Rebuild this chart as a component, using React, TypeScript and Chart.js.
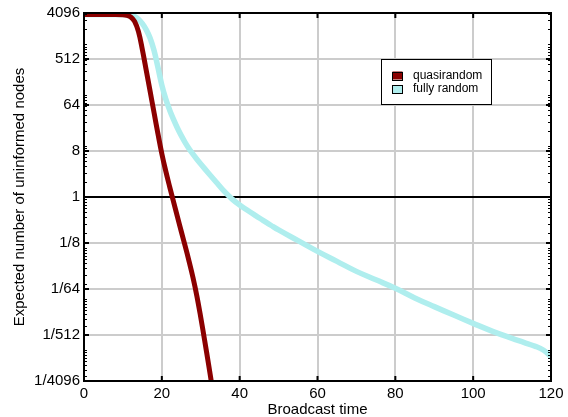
import React, { useEffect, useRef } from "react";
import { Chart, registerables } from "chart.js";

Chart.register(...registerables);

// Broadcast time (x) and log2 of expected number of uninformed nodes (y)
const quasiTime = [0, 5, 8, 10, 11, 12, 13, 14, 15, 16, 17, 18, 19, 20, 21, 22, 23, 24, 25, 26, 27, 28, 29, 30, 31, 32, 33];
const quasiLog2 = [11.9, 11.9, 11.9, 11.88, 11.84, 11.74, 11.45, 10.78, 9.6, 8.25, 6.88, 5.5, 4.12, 2.82, 1.7, 0.68, -0.3, -1.28, -2.25, -3.2, -4.2, -5.25, -6.45, -7.85, -9.35, -10.9, -12.5];

const randomTime = [0, 5, 10, 11, 12, 13, 14, 15, 16, 17, 18, 19, 20, 21, 22, 23, 24, 25, 26, 27, 28, 29, 30, 32, 34, 36, 38, 40, 42, 44, 46, 48, 50, 55, 60, 65, 70, 75, 80, 85, 90, 95, 100, 105, 110, 113, 116, 118, 120];
const randomLog2 = [11.9, 11.9, 11.9, 11.89, 11.86, 11.78, 11.6, 11.3, 10.9, 10.35, 9.55, 8.45, 7.3, 6.4, 5.68, 5.06, 4.5, 4.0, 3.55, 3.15, 2.79, 2.46, 2.15, 1.55, 0.96, 0.38, -0.12, -0.52, -0.87, -1.2, -1.52, -1.84, -2.15, -2.85, -3.55, -4.2, -4.85, -5.4, -5.95, -6.58, -7.15, -7.7, -8.24, -8.76, -9.22, -9.48, -9.74, -9.98, -10.4];

const seriesNames = ["quasirandom", "fully random"];
const seriesColors = ["#8b0000", "#afeeee"];

const yTickExponents = [-12, -9, -6, -3, 0, 3, 6, 9, 12];
const xTicks = [0, 20, 40, 60, 80, 100, 120];

const FONT = "'Liberation Sans', Arial, Helvetica, sans-serif";

function fmtPow2(v: number): string {
  const r = Math.round(v);
  if (r >= 0) return String(Math.pow(2, r));
  return "1/" + String(Math.pow(2, -r));
}

const framePlugin = {
  id: "frame",
  afterDatasetsDraw(chart: any) {
    const { ctx, chartArea } = chart;
    const xs = chart.scales.x;
    const ys = chart.scales.y;
    const { left, right, top, bottom } = chartArea;
    ctx.save();
    // minor ticks on y (m * 10^k)
    ctx.strokeStyle = "#000";
    ctx.lineWidth = 1;
    for (let k = -4; k <= 3; k++) {
      for (let m = 1; m <= 9; m++) {
        const v = Math.log2(m * Math.pow(10, k));
        if (v < -12 || v > 12) continue;
        const py = Math.round(ys.getPixelForValue(v)) + 0.5;
        ctx.beginPath();
        ctx.moveTo(left, py);
        ctx.lineTo(left + 3, py);
        ctx.moveTo(right, py);
        ctx.lineTo(right - 3, py);
        ctx.stroke();
      }
    }
    // major ticks
    ctx.lineWidth = 2;
    for (const t of xTicks) {
      const px = xs.getPixelForValue(t);
      ctx.beginPath();
      ctx.moveTo(px, bottom);
      ctx.lineTo(px, bottom - 5);
      ctx.moveTo(px, top);
      ctx.lineTo(px, top + 5);
      ctx.stroke();
    }
    for (const t of yTickExponents) {
      const py = ys.getPixelForValue(t);
      ctx.beginPath();
      ctx.moveTo(left, py);
      ctx.lineTo(left + 5, py);
      ctx.moveTo(right, py);
      ctx.lineTo(right - 5, py);
      ctx.stroke();
    }
    // box
    ctx.lineWidth = 2;
    ctx.strokeRect(left, top, right - left, bottom - top);

    // legend
    const w = right - left;
    const h = bottom - top;
    const lx = left + w * 0.637;
    const ly = top + h * 0.125;
    const lw = 110;
    const lh = 45;
    ctx.fillStyle = "#fff";
    ctx.fillRect(lx, ly, lw, lh);
    ctx.lineWidth = 1;
    ctx.strokeStyle = "#000";
    ctx.strokeRect(Math.round(lx) + 0.5, Math.round(ly) + 0.5, lw, lh);
    ctx.font = "12px " + FONT;
    ctx.textBaseline = "middle";
    ctx.textAlign = "left";
    chart.data.datasets.forEach((ds: any, i: number) => {
      const cy = ly + 16.5 + i * 13.5;
      ctx.fillStyle = ds.borderColor;
      ctx.fillRect(lx + 11, cy - 4, 10, 8);
      ctx.strokeRect(Math.round(lx + 11) + 0.5, Math.round(cy - 4) + 0.5, 10, 8);
      ctx.fillStyle = "#000";
      ctx.fillText(ds.label, lx + 31.5, cy);
    });
    ctx.restore();
  },
};

export default function App() {
  const ref = useRef<HTMLCanvasElement | null>(null);
  useEffect(() => {
    if (!ref.current) return;
    Chart.defaults.font.family = FONT;
    Chart.defaults.font.size = 15;
    Chart.defaults.color = "#000";
    const chart = new Chart(ref.current, {
      type: "line",
      data: {
        datasets: [
          {
            label: seriesNames[0],
            data: quasiTime.map((x, i) => ({ x, y: quasiLog2[i] })),
            borderColor: seriesColors[0],
            backgroundColor: seriesColors[0],
            borderWidth: 5,
            pointRadius: 0,
            tension: 0.4,
            clip: 0,
          },
          {
            label: seriesNames[1],
            data: randomTime.map((x, i) => ({ x, y: randomLog2[i] })),
            borderColor: seriesColors[1],
            backgroundColor: seriesColors[1],
            borderWidth: 5.5,
            pointRadius: 0,
            tension: 0.4,
            clip: 0,
          },
        ],
      },
      options: {
        animation: false,
        responsive: false,
        events: [],
        layout: { padding: { left: 0, right: 17, top: 13, bottom: 0 } },
        plugins: { legend: { display: false }, tooltip: { enabled: false } },
        scales: {
          x: {
            type: "linear",
            min: 0,
            max: 120,
            afterFit: (s: any) => {
              s.height = 36;
            },
            afterBuildTicks: (s: any) => {
              s.ticks = xTicks.map((v) => ({ value: v }));
            },
            ticks: { padding: 4, font: { size: 15 }, color: "#000", maxRotation: 0 },
            grid: { color: "#cccccc", lineWidth: 2, drawTicks: false },
            border: { display: false },
            title: { display: true, text: "Broadcast time", font: { size: 15 }, color: "#000", padding: { top: 0, bottom: -1.5 } },
          },
          y: {
            type: "linear",
            min: -12,
            max: 12,
            afterFit: (s: any) => {
              s.width = 84;
            },
            afterBuildTicks: (s: any) => {
              s.ticks = yTickExponents.map((v) => ({ value: v }));
            },
            ticks: { padding: 4, font: { size: 15 }, color: "#000", callback: (v: any) => fmtPow2(Number(v)) },
            grid: {
              color: (c: any) => (c.tick && c.tick.value === 0 ? "#000" : "#cccccc"),
              lineWidth: 2,
              drawTicks: false,
            },
            border: { display: false },
            title: {
              display: true,
              text: "Expected number of uninformed nodes",
              font: { size: 15 },
              color: "#000",
              padding: { top: 11, bottom: 0 },
            },
          },
        },
      },
      plugins: [framePlugin],
    } as any);
    return () => chart.destroy();
  }, []);
  return (
    <div style={{ position: "absolute", left: 0, top: 0, width: 568, height: 417, background: "#fff" }}>
      <canvas ref={ref} width={568} height={417} />
    </div>
  );
}
